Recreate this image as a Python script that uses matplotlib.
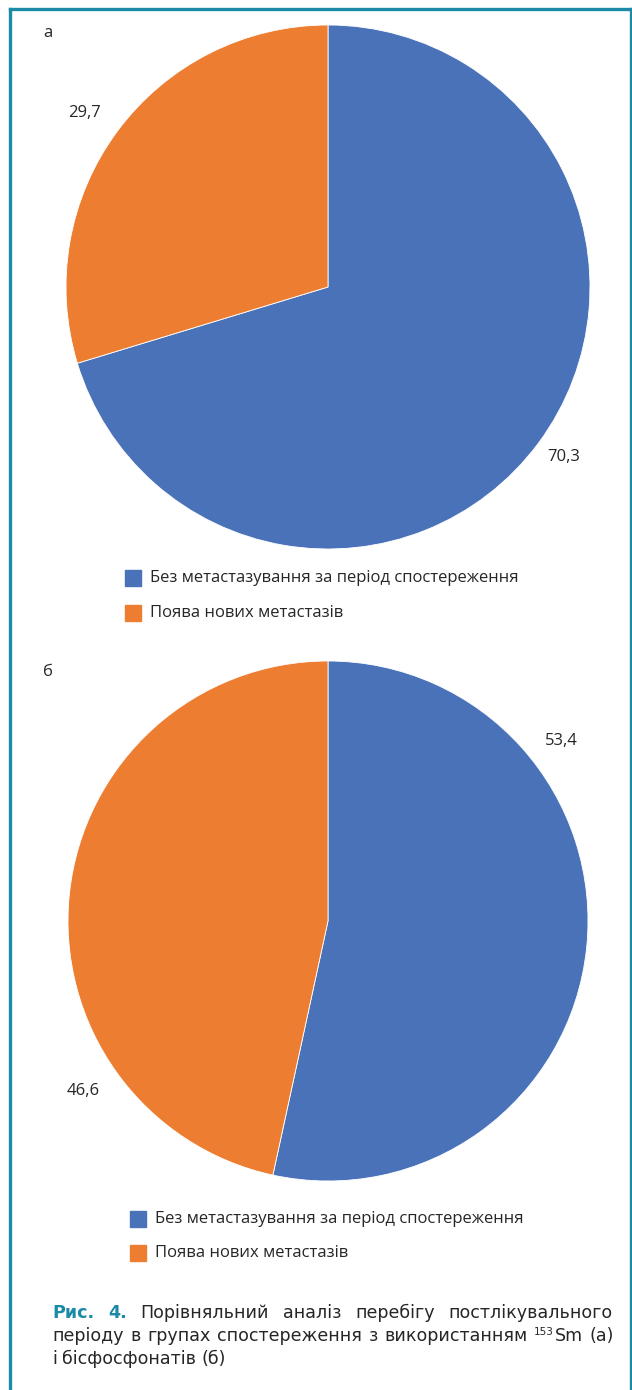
import matplotlib
matplotlib.use("Agg")
import matplotlib.pyplot as plt
from matplotlib.patches import Rectangle
from matplotlib.lines import Line2D

W, H = 632, 1390

# pie values, clockwise from 12 o'clock
categories = ["Без метастазування за період спостереження", "Поява нових метастазів"]
values_a = [70.3, 29.7]
values_b = [53.4, 46.6]
labels_a = ["70,3", "29,7"]
labels_b = ["53,4", "46,6"]
colors = ["#4a72b8", "#ed7d31"]

TEAL = "#1a8aa6"
TXT = "#262626"
FONT = ["Open Sans", "DejaVu Sans"]
CAP_FONT = ["DejaVu Sans"]
LBL = 12

fig = plt.figure(figsize=(W / 100, H / 100), dpi=100)


def px(x, y):
    # pixel coords (origin top-left) -> figure fraction
    return x / W, 1 - y / H


def pie_axes(cx, cy, r, values):
    ax = fig.add_axes([(cx - r) / W, 1 - (cy + r) / H, 2 * r / W, 2 * r / H])
    ax.pie(values, colors=colors, startangle=90, counterclock=False,
           wedgeprops=dict(edgecolor="white", linewidth=0.6))
    ax.set_xlim(-1, 1)
    ax.set_ylim(-1, 1)
    ax.set_aspect("equal")
    ax.axis("off")
    return ax


def label(x, y, s):
    fig.text(*px(x, y), s, fontsize=LBL, family=FONT, color=TXT, va="center", ha="left")


def legend(x, y, dy):
    for i, (name, c) in enumerate(zip(categories, colors)):
        yy = y + i * dy
        fig.patches.append(Rectangle(px(x, yy + 8), 16 / W, 16 / H,
                                     transform=fig.transFigure, color=c))
        fig.text(*px(x + 25, yy), name, fontsize=LBL, family=FONT,
                 color=TXT, va="center", ha="left")


# panel а
pie_axes(328, 287, 262, values_a)
label(43, 33, "а")
label(68, 113, labels_a[1])
label(547, 457, labels_a[0])
legend(125, 578, 35)

# panel б
pie_axes(328, 921, 260, values_b)
label(43, 672, "б")
label(545, 741, labels_b[0])
label(67, 1091, labels_b[1])
legend(130, 1219, 34)

# frame: left, top and right rules
for xs, ys in [((9.5, 9.5), (8.5, H)), ((9.5, 630.5), (8.5, 8.5)), ((630.5, 630.5), (8.5, H))]:
    fig.add_artist(Line2D([x / W for x in xs], [1 - y / H for y in ys],
                          transform=fig.transFigure, color=TEAL, linewidth=2.4))

# caption, justified between x0 and x1
fig.canvas.draw()
renderer = fig.canvas.get_renderer()
x0, x1 = 52, 613
CAP_SIZE = 12.6


def put_line(words, y, justify=True):
    # words: list of (text, color, weight, size, raise_px)
    arts = []
    for text, color, weight, size, rise in words:
        t = fig.text(0, 1 - (y - rise) / H, text, fontsize=size, family=CAP_FONT,
                     color=color, weight=weight, va="baseline", ha="left")
        arts.append(t)
    fig.canvas.draw()
    widths = [a.get_window_extent(renderer).width for a in arts]
    # superscripts glue to the following word
    gaps = [0 if words[i][4] > 0 else 1 for i in range(len(words) - 1)]
    n_gaps = sum(gaps)
    if justify and n_gaps:
        gap = (x1 - x0 - sum(widths)) / n_gaps
    else:
        gap = 5.5
    x = x0
    for i, a in enumerate(arts):
        a.set_x(x / W)
        x += widths[i]
        if i < len(gaps):
            x += gap if gaps[i] else 1


N = (TXT, "normal", CAP_SIZE, 0)
line1 = [("Рис.", TEAL, "bold", CAP_SIZE, 0), ("4.", TEAL, "bold", CAP_SIZE, 0)] + \
        [(w,) + N for w in "Порівняльний аналіз перебігу постлікувального".split()]
line2 = [(w,) + N for w in "періоду в групах спостереження з використанням".split()] + \
        [("153", TXT, "normal", 7.5, 6), ("Sm",) + N, ("(а)",) + N]
line3 = [(w,) + N for w in "і бісфосфонатів (б)".split()]
put_line(line1, 1318)
put_line(line2, 1341)
put_line(line3, 1364, justify=False)

fig.savefig("out.png", dpi=100, facecolor="white")
